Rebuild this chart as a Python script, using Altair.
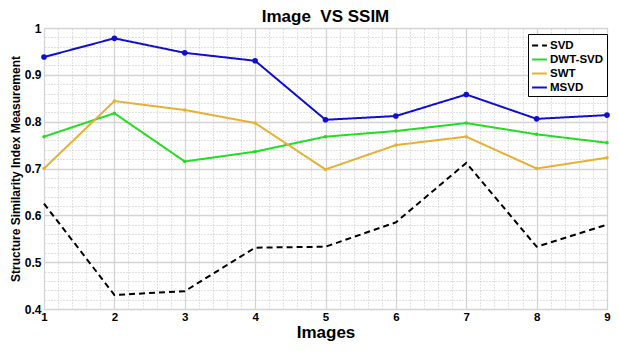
import altair as alt
import pandas as pd

images = [1, 2, 3, 4, 5, 6, 7, 8, 9]
svd = [0.625, 0.430, 0.438, 0.531, 0.533, 0.585, 0.712, 0.533, 0.580]
dwt_svd = [0.768, 0.818, 0.715, 0.736, 0.768, 0.780, 0.797, 0.773, 0.755]
swt = [0.700, 0.844, 0.825, 0.797, 0.698, 0.750, 0.768, 0.700, 0.723]
msvd = [0.938, 0.978, 0.947, 0.930, 0.804, 0.812, 0.858, 0.806, 0.814]

series = ["SVD", "DWT-SVD", "SWT", "MSVD"]
colors = ["#000000", "#22dd22", "#e8b030", "#1010cc"]
dashes = [[6, 4], [1, 0], [1, 0], [1, 0]]
marker_sizes = [0, 12, 12, 32]

y_major = [0.4, 0.5, 0.6, 0.7, 0.8, 0.9, 1.0]
x_minor = [round(1 + 0.2 * i, 2) for i in range(41)]
y_minor = [round(0.4 + 0.02 * i, 2) for i in range(31)]

rows = []
for name, vals in zip(series, [svd, dwt_svd, swt, msvd]):
    for x, v in zip(images, vals):
        rows.append({"image": x, "ssim": v, "method": name})
df = pd.DataFrame(rows)

FONT = "Liberation Sans, Arial"

xscale = alt.Scale(domain=[1, 9], nice=False, zero=False)
yscale = alt.Scale(domain=[0.4, 1.0], nice=False, zero=False)

legend = alt.Legend(
    orient="none",
    legendX=484,
    legendY=6,
    symbolType="stroke",
    symbolStrokeWidth=2,
    symbolSize=220,
    strokeColor="#000000",
    fillColor="#ffffff",
    padding=3,
    rowPadding=0,
    labelFont=FONT,
    labelFontSize=11.5,
    labelFontWeight="bold",
    labelColor="#000000",
    labelOffset=2,
    cornerRadius=0,
    title=None,
)

color = alt.Color("method:N", scale=alt.Scale(domain=series, range=colors),
                  sort=series, title=None, legend=legend)
dash = alt.StrokeDash("method:N", scale=alt.Scale(domain=series, range=dashes),
                      sort=series, title=None, legend=legend)

minor = alt.Chart(df).mark_point(opacity=0).encode(
    x=alt.X("image:Q", scale=xscale,
            axis=alt.Axis(values=x_minor, grid=True, gridDash=[1, 2], gridColor="#c4c4c4",
                          gridWidth=1, labels=False, ticks=False, domain=False, title=None,
                          orient="top")),
    y=alt.Y("ssim:Q", scale=yscale,
            axis=alt.Axis(values=y_minor, grid=True, gridDash=[1, 2], gridColor="#c4c4c4",
                          gridWidth=1, labels=False, ticks=False, domain=False, title=None,
                          orient="right")),
)

major = alt.Chart(df).mark_point(opacity=0).encode(
    x=alt.X("image:Q", scale=xscale,
            axis=alt.Axis(values=images, grid=True, gridColor="#d4d4d4", gridWidth=1.3,
                          ticks=False, domain=False, title="Images", labelFont=FONT,
                          labelFontSize=11.5, labelFontWeight="bold", labelColor="#000000",
                          labelPadding=2, titleFont=FONT, titleFontSize=17,
                          titleFontWeight="bold", titleColor="#000000", titlePadding=2,
                          labelFlush=False)),
    y=alt.Y("ssim:Q", scale=yscale,
            axis=alt.Axis(values=y_major, grid=True, gridColor="#d4d4d4", gridWidth=1.3,
                          ticks=False, domain=False,
                          title="Structure Similarity Index Measurement",
                          labelFont=FONT, labelFontSize=12, labelFontWeight="bold",
                          labelColor="#000000", labelPadding=3,
                          labelExpr="datum.value == 1 ? '1' : format(datum.value, '.1f')",
                          titleFont=FONT, titleFontSize=12, titleFontWeight="bold",
                          titleColor="#000000", titlePadding=2)),
)

lines = alt.Chart(df).mark_line(strokeWidth=2).encode(
    x=alt.X("image:Q", scale=xscale, axis=None),
    y=alt.Y("ssim:Q", scale=yscale, axis=None),
    color=color,
    strokeDash=dash,
)

point_layers = []
for name, col, sz in zip(series, colors, marker_sizes):
    if sz == 0:
        continue
    point_layers.append(
        alt.Chart(df).transform_filter(alt.datum.method == name)
        .mark_circle(color=col, size=sz, opacity=1)
        .encode(
            x=alt.X("image:Q", scale=xscale, axis=None),
            y=alt.Y("ssim:Q", scale=yscale, axis=None),
        )
    )

chart = (
    alt.layer(minor, major, lines, *point_layers)
    .resolve_axis(x="independent", y="independent")
    .properties(
        width=563,
        height=281,
        title=alt.TitleParams("Image\u00a0 VS SSIM", font=FONT, fontSize=17, fontWeight="bold",
                              color="#000000", offset=2, dy=6, anchor="middle"),
        autosize=alt.AutoSizeParams(type="none"),
        padding={"left": 36, "top": 20, "right": 4, "bottom": 34},
    )
    .configure_view(stroke="#000000", strokeWidth=2)
    .configure(background="#ffffff")
)

chart.save("out.html", embed_options={"renderer": "svg", "actions": False})
